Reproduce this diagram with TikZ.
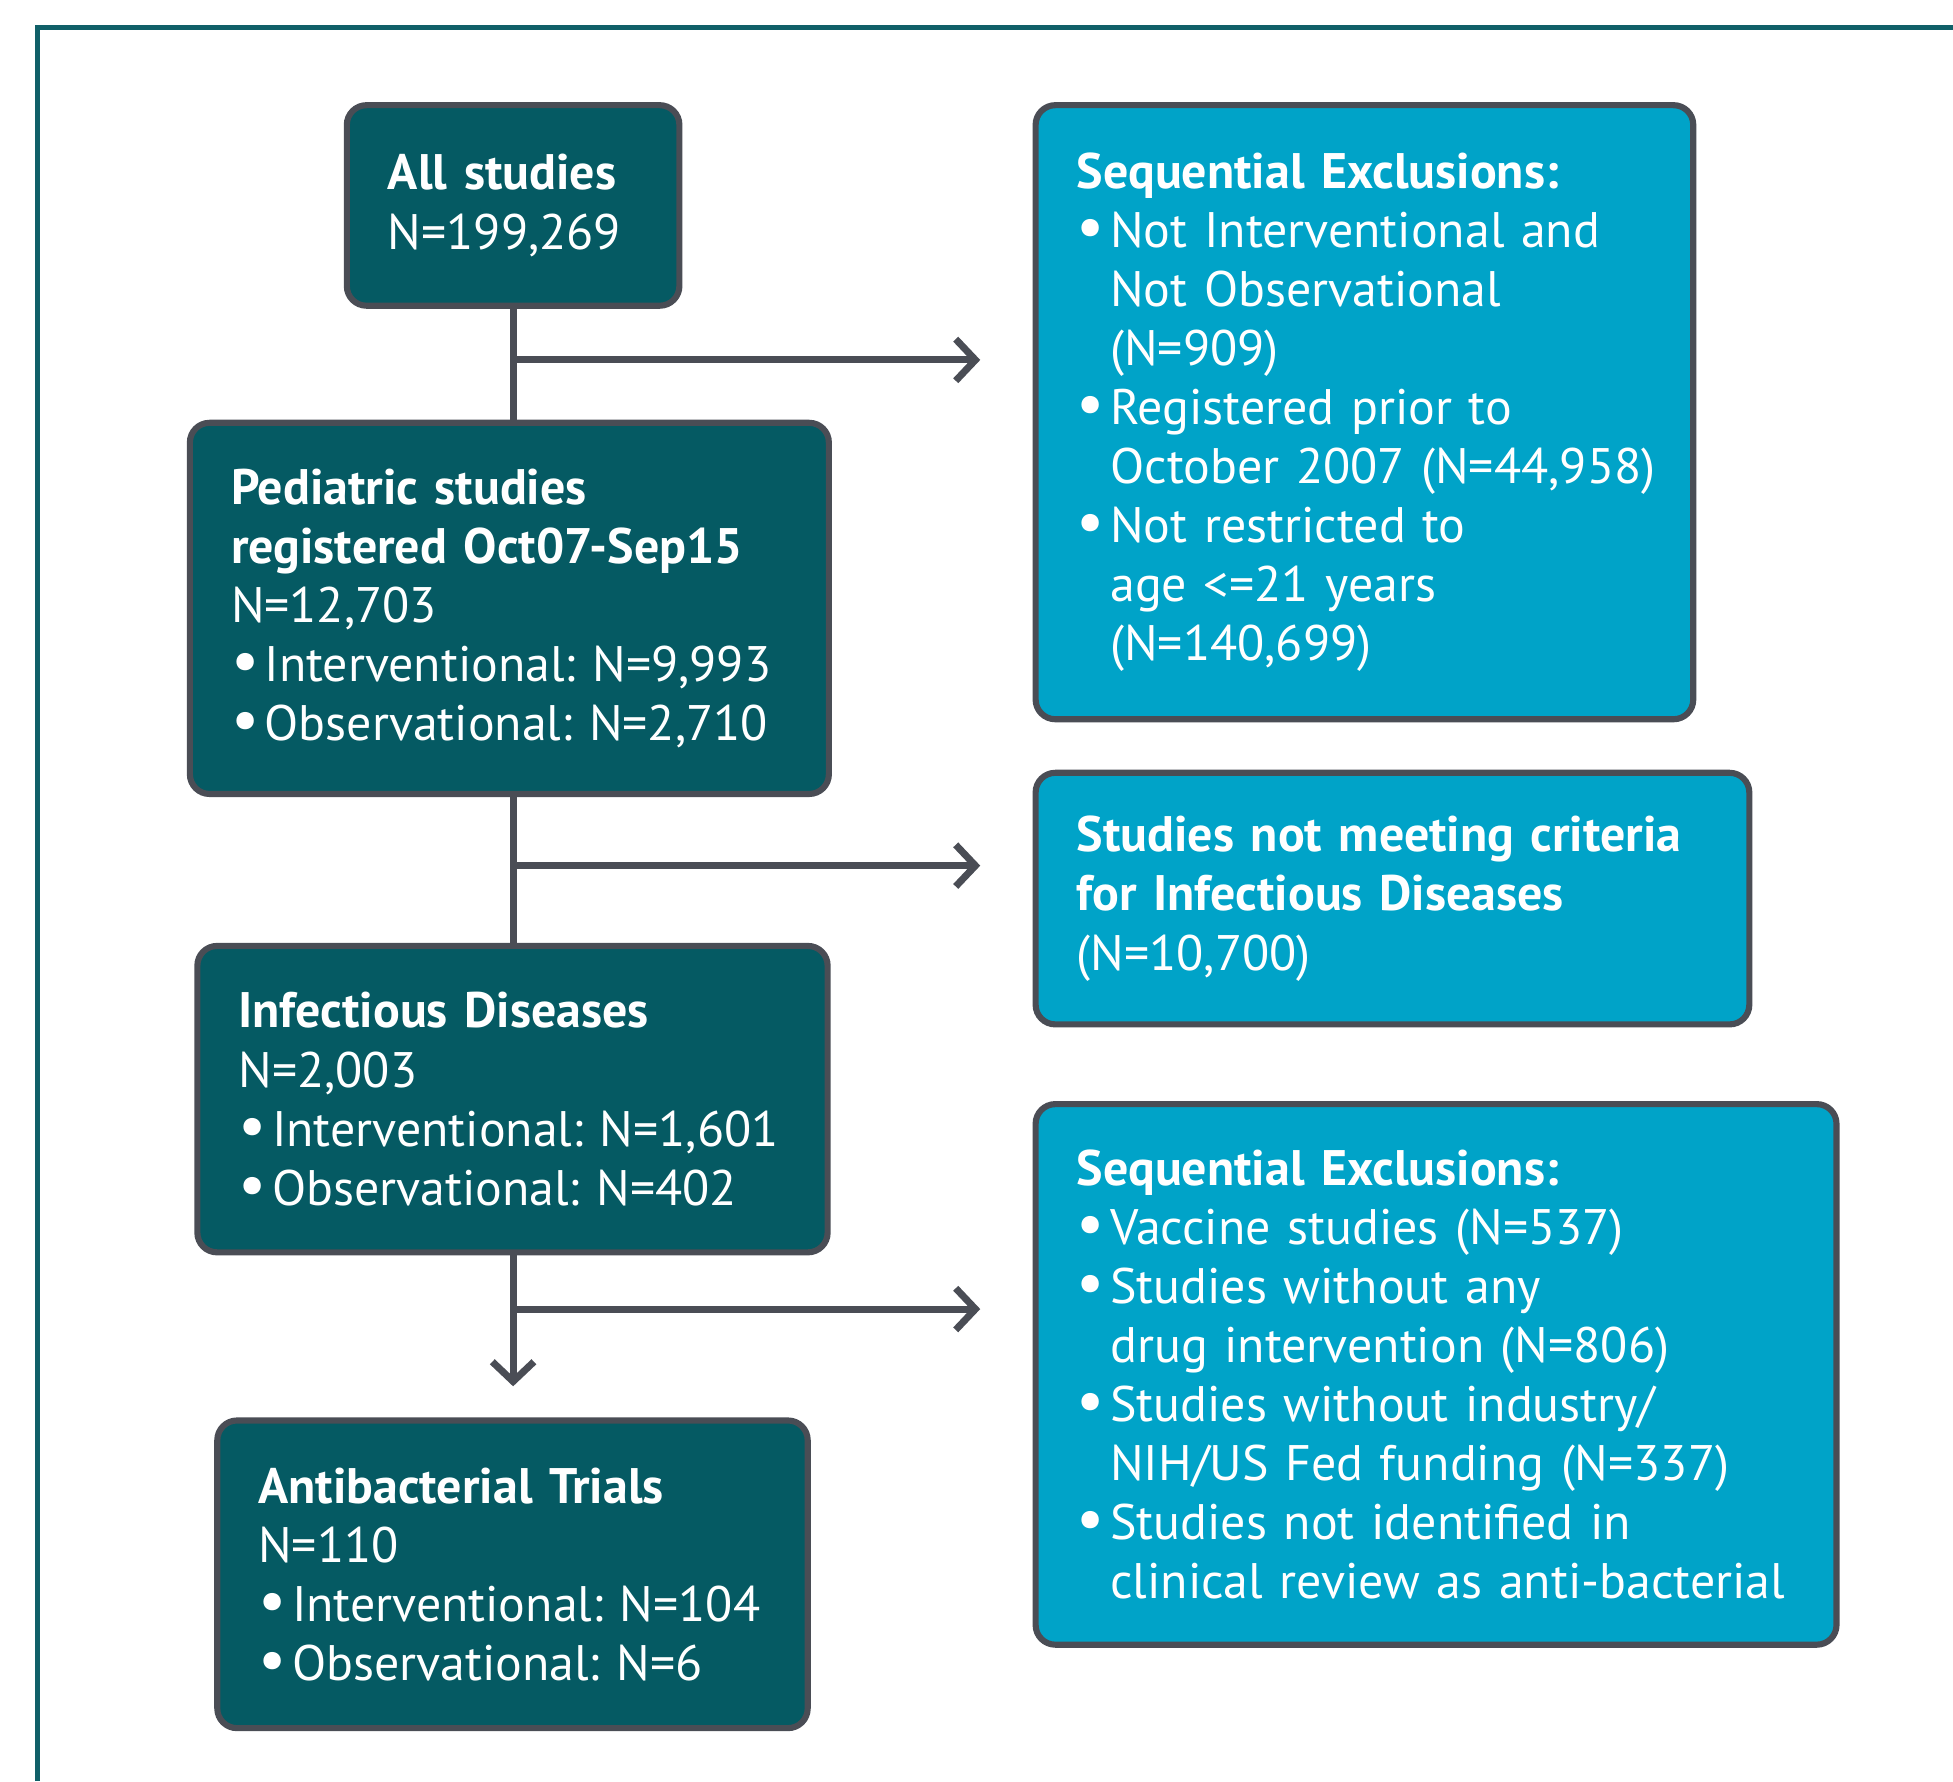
\documentclass[tikz,border=0pt]{standalone}
\usepackage{fontspec}
\setmainfont{PT Sans}
\usepackage{tikz}
\usetikzlibrary{arrows.meta,positioning,calc}
\definecolor{fcdark}{RGB}{5,90,99}
\definecolor{fclight}{RGB}{0,163,200}
\definecolor{fcgrey}{RGB}{74,77,85}
\definecolor{fcframe}{RGB}{16,96,104}
\tikzstyle{line} = [line width=1.6pt, color=fcgrey]
\tikzstyle{arrow} = [line, -{Straight Barb[length=4.5pt,width=9.5pt]}]
\tikzstyle{flowbox} = [rectangle, rounded corners=4.5pt, draw=fcgrey, line width=1.4pt, text=white, align=left, inner xsep=0.33cm, anchor=north west, font=\fontsize{11.4}{13.5}\selectfont]
\tikzstyle{darkbox} = [flowbox, fill=fcdark]
\tikzstyle{lightbox} = [flowbox, fill=fclight]
\newcommand{\bul}{\makebox[0.27cm][l]{\scalebox{1.25}{\textbullet}}}
\newcommand{\cont}{\hspace*{0.27cm}}
\frenchspacing

\begin{document}
\begin{tikzpicture}
\useasboundingbox (0,0) rectangle (15.68,-14.30);
% Frame
\draw[fcframe, line width=1pt] (0.30,-14.30) -- (0.30,-0.22) -- (15.68,-0.22);

% Main flow
\node[darkbox, text width=2.01cm, minimum height=1.61cm] (all) at (2.76,-0.82)
  {\textbf{All studies}\\N=199,269};
\node[darkbox, text width=4.47cm, minimum height=2.98cm] (ped) at (1.50,-3.37)
  {\textbf{Pediatric studies}\\\textbf{registered Oct07-Sep15}\\N=12,703\\\bul Interventional: N=9,993\\\bul Observational: N=2,710};
\node[darkbox, text width=4.40cm, minimum height=2.46cm] (inf) at (1.56,-7.57)
  {\textbf{Infectious Diseases}\\N=2,003\\\bul Interventional: N=1,601\\\bul Observational: N=402};
\node[darkbox, text width=4.08cm, minimum height=2.47cm] (anti) at (1.72,-11.38)
  {\textbf{Antibacterial Trials}\\N=110\\\bul Interventional: N=104\\\bul Observational: N=6};

% Exclusions
\node[lightbox, text width=4.62cm, minimum height=4.93cm] (exclA) at (8.29,-0.82)
  {\textbf{Sequential Exclusions:}\\\bul Not Interventional and\\\cont Not Observational\\\cont (N=909)\\\bul Registered prior to\\\cont\mbox{October 2007 (N=44,958)}\\\bul Not restricted to\\\cont age <=21 years\\\cont (N=140,699)};
\node[lightbox, text width=5.07cm, minimum height=2.02cm] (exclB) at (8.29,-6.18)
  {\textbf{Studies not meeting criteria}\\\textbf{for Infectious Diseases}\\(N=10,700)};
\node[lightbox, text width=5.77cm, minimum height=4.34cm] (exclC) at (8.29,-8.84)
  {\textbf{Sequential Exclusions:}\\\bul Vaccine studies (N=537)\\\bul Studies without any\\\cont drug intervention (N=806)\\\bul Studies without industry/\\\cont NIH/US Fed funding (N=337)\\\bul Studies not identified in\\\cont clinical review as anti-bacterial};

% Connectors
\draw[line] (all.south) -- (all.south |- ped.north);
\draw[line] (all.south |- ped.south) -- (all.south |- inf.north);
\draw[arrow, shorten >=0.25cm] (all.south |- inf.south) -- (all.south |- anti.north);

\coordinate (br1) at (4.10,-2.89);
\coordinate (br2) at (4.10,-6.95);
\coordinate (br3) at (4.10,-10.51);
\draw[arrow, shorten >=0.42cm] (br1) -- (br1 -| exclA.west);
\draw[arrow, shorten >=0.42cm] (br2) -- (br2 -| exclB.west);
\draw[arrow, shorten >=0.42cm] (br3) -- (br3 -| exclC.west);
\end{tikzpicture}
\end{document}
